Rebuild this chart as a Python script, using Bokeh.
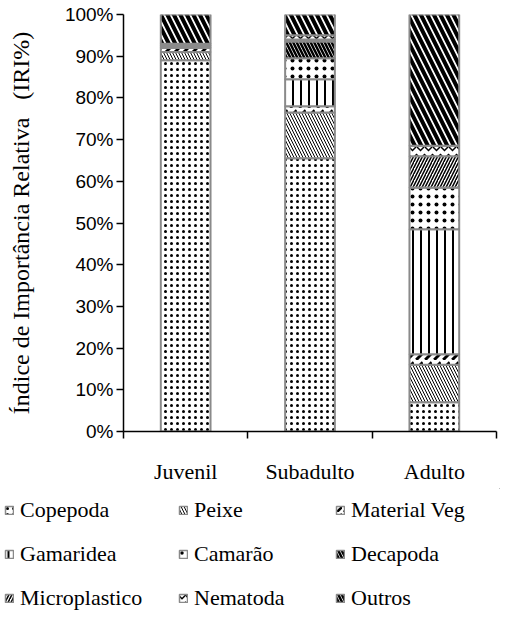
from bokeh.plotting import figure
from bokeh.models import (ColumnDataSource, FixedTicker, Legend, LegendItem,
                          Range1d, PrintfTickFormatter)
from bokeh.embed import file_html
from bokeh.resources import INLINE

categories = ["Juvenil", "Subadulto", "Adulto"]
prey = ["Copepoda", "Peixe", "Material Veg", "Gamaridea", "Camarão",
        "Decapoda", "Microplastico", "Nematoda", "Outros"]

copepoda = [89.0, 65.5, 7.0]
peixe = [2.0, 11.0, 9.0]
material_veg = [1.0, 1.5, 2.5]
gamaridea = [0.0, 6.5, 30.0]
camarao = [0.0, 5.0, 10.0]
decapoda = [0.0, 4.0, 0.0]
microplastico = [0.5, 0.5, 7.5]
nematoda = [0.5, 1.0, 2.5]
outros = [7.0, 5.0, 31.5]

yticks = [0, 10, 20, 30, 40, 50, 60, 70, 80, 90, 100]

values = [copepoda, peixe, material_veg, gamaridea, camarao,
          decapoda, microplastico, nematoda, outros]

x_pos = [i + 0.5 for i in range(len(categories))]
data = {"x": x_pos}
for name, vals in zip(prey, values):
    data[name] = vals
source = ColumnDataSource(data)

hatch_patterns = ["dot", "left_diagonal_line", "right_diagonal_dash",
                  "vertical_line", "dot", "left_diagonal_line",
                  "right_diagonal_line", "horizontal_wave", "left_diagonal_line"]
hatch_scales = [6, 6, 9, 8, 8, 7, 6, 8, 13]
hatch_weights = [1.2, 1.0, 3, 2, 3, 2.5, 1.5, 1.5, 4]
bar_line = "#8a8a8a"

W = 500
MH = 488
p = figure(width=W, height=MH, output_backend="svg", toolbar_location=None,
           x_range=Range1d(0, len(categories)), y_range=Range1d(0, 100),
           min_border_left=123, min_border_right=4, min_border_top=14,
           min_border_bottom=MH - 14 - 417)
p.outline_line_color = None
p.xgrid.visible = False
p.ygrid.visible = False

renderers = p.vbar_stack(prey, x="x", width=0.4, source=source,
                         fill_color="white", line_color=bar_line, line_width=2,
                         hatch_pattern=hatch_patterns, hatch_color="black",
                         hatch_scale=hatch_scales, hatch_weight=hatch_weights)

xa = p.xaxis[0]
xa.ticker = FixedTicker(ticks=x_pos, minor_ticks=list(range(len(categories) + 1)))
xa.major_label_overrides = {x: c for x, c in zip(x_pos, categories)}
xa.major_tick_line_color = None
xa.minor_tick_line_color = "black"
xa.minor_tick_line_width = 1.5
xa.minor_tick_out = 7
xa.minor_tick_in = 0
xa.axis_line_color = "black"
xa.axis_line_width = 1.5
xa.major_label_text_font = "Liberation Serif"
xa.major_label_text_font_size = "22px"
xa.major_label_text_color = "black"
xa.major_label_standoff = 20

ya = p.yaxis[0]
ya.ticker = FixedTicker(ticks=yticks)
ya.formatter = PrintfTickFormatter(format="%d%%")
ya.minor_tick_line_color = None
ya.major_tick_line_color = "black"
ya.major_tick_line_width = 1.5
ya.major_tick_out = 7
ya.major_tick_in = 0
ya.axis_line_color = "black"
ya.axis_line_width = 1.5
ya.major_label_text_font = "Liberation Sans"
ya.major_label_text_font_size = "19px"
ya.major_label_text_color = "black"
ya.major_label_standoff = 3
ya.axis_label = "Índice de Importância Relativa\u00a0\u00a0\u00a0(IRI%)"
ya.axis_label_text_font = "Liberation Serif"
ya.axis_label_text_font_size = "24px"
ya.axis_label_text_font_style = "normal"
ya.axis_label_text_color = "black"
ya.axis_label_standoff = 28

# legend panel (separate root below the chart)
LH = 611 - MH
pl = figure(width=W, height=LH, output_backend="svg", toolbar_location=None,
            x_range=Range1d(0, 1), y_range=Range1d(0, 1),
            x_axis_location=None, y_axis_location=None,
            min_border_left=0, min_border_right=0, min_border_top=0,
            min_border_bottom=0)
pl.xgrid.visible = False
pl.ygrid.visible = False
pl.outline_line_color = None

# legend proxies: one off-frame bar each, only their styles appear in the legend
leg_renderers = []
for i, name in enumerate(prey):
    r = pl.vbar(x=[5], top=[5], bottom=[4], width=0.1, fill_color="white",
                line_color=bar_line, line_width=1.5,
                hatch_pattern=hatch_patterns[i], hatch_color="black",
                hatch_scale=min(hatch_scales[i], 7),
                hatch_weight=min(hatch_weights[i], 2.5))
    leg_renderers.append(r)

col_x = [4, 178, 335]
for c in range(3):
    items = [LegendItem(label=prey[c + 3 * r], renderers=[leg_renderers[c + 3 * r]])
             for r in range(3)]
    leg = Legend(items=items, location=(col_x[c], 0), orientation="vertical",
                 background_fill_alpha=0, border_line_color=None,
                 padding=0, margin=0, spacing=18, glyph_width=10, glyph_height=10,
                 label_standoff=6, label_text_font="Liberation Serif",
                 label_text_font_size="22px", label_text_color="black",
                 label_height=25)
    pl.add_layout(leg, "center")

open("out.html", "w").write(file_html([p, pl], INLINE))
